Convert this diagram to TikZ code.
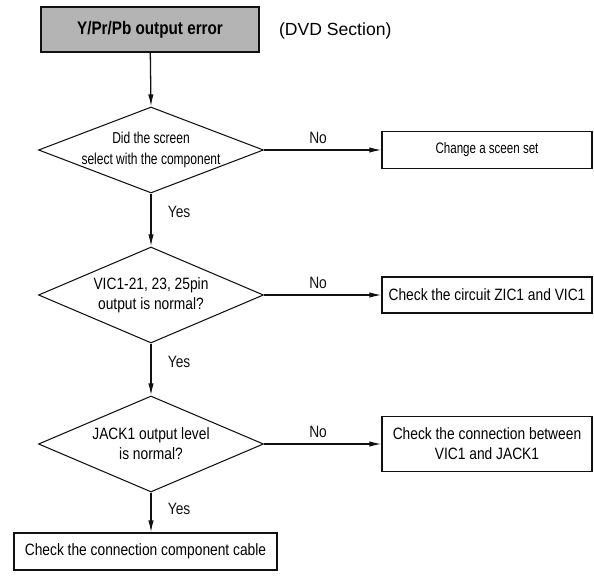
\documentclass[tikz,border=0pt]{standalone}
\usepackage{fontspec}
\setmainfont{Liberation Sans}[FakeStretch=0.84]
\newfontfamily\narrowsf{Liberation Sans}[FakeStretch=0.76]
\newfontfamily\plainsf{Liberation Sans}
\usetikzlibrary{arrows.meta,positioning,calc,shapes.geometric}
\definecolor{fcInk}{HTML}{111111}
\definecolor{fcGray}{HTML}{B4B4B4}

\begin{document}
\begin{tikzpicture}[
  x=0.3mm, y=-0.3mm,
  font=\fontsize{14}{17}\selectfont, >={Latex[length=3.6mm,width=1.6mm]},
  flow/.style={->,line width=1.1pt,draw=fcInk},
  decide/.style={diamond,draw=fcInk,line width=0.9pt,inner xsep=-4mm,inner ysep=-1.5mm,align=center,
                 minimum width=67.5mm,shape aspect=2.34,minimum height=28.8mm},
  act/.style={rectangle,draw=fcInk,line width=0.9pt,align=center,inner sep=2pt},
  head/.style={act,fill=fcGray,line width=1.3pt,minimum width=65.4mm,minimum height=13.5mm,
               font=\fontsize{15.5}{17}\selectfont\bfseries},
  lbl/.style={inner sep=1pt,text=fcInk},
]
\useasboundingbox (0,0) rectangle (594,580);

% start
\node[head] (start) at (150,29.5) {Y/Pr/Pb output error};
\node[anchor=west,font=\plainsf\fontsize{15}{17}\selectfont] (sect) at (275,31) {(DVD Section)};

% questions
\node[decide,shape aspect=2.62,minimum height=25.8mm,font=\narrowsf\fontsize{13.5}{18}\selectfont]
  (screen) at (151,150) {Did the screen\\select with the component};
\node[decide] (pins) at (151,295) {VIC1-21, 23, 25pin\\output is normal?};
\node[decide] (jack) at (151,444) {JACK1 output level\\is normal?};

% actions
\node[act,minimum width=63mm,minimum height=11.1mm,font=\narrowsf\fontsize{13}{15}\selectfont]
  (scset) at (487,150) {Change a sceen set};
\node[act,minimum width=63mm,minimum height=10.8mm] (zic) at (487,295) {Check the circuit ZIC1 and VIC1};
\node[act,minimum width=63mm,minimum height=16.5mm] (vicjack) at (487,444)
  {Check the connection between\\VIC1 and JACK1};
\node[act,minimum width=78.9mm,minimum height=11.1mm] (cable) at (145.5,551.5)
  {Check the connection component cable};

% yes path
\draw[flow] (start) -- (screen.north);
\draw[flow] (screen.south) -- node[lbl,right=4.5mm,pos=0.35]{Yes} (pins.north);
\draw[flow] (pins.south) -- node[lbl,right=4.5mm,pos=0.35]{Yes} (jack.north);
\draw[flow] (jack.south) -- node[lbl,right=4.5mm,pos=0.4]{Yes} (jack.south |- cable.north);
% no branches
\draw[flow] (screen.east) -- node[lbl,above=1.5mm,pos=0.46]{No} (scset.west);
\draw[flow] (pins.east) -- node[lbl,above=1.5mm,pos=0.46]{No} (zic.west);
\draw[flow] (jack.east) -- node[lbl,above=1.5mm,pos=0.46]{No} (vicjack.west);
\end{tikzpicture}
\end{document}
